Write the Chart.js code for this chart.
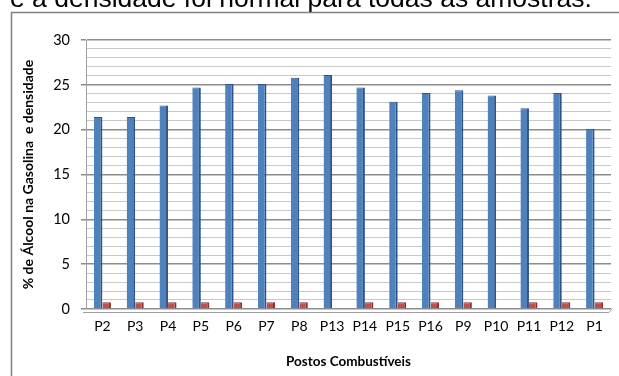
<!DOCTYPE html>
<html>
<head>
<meta charset="utf-8">
<script src="https://cdn.jsdelivr.net/npm/chart.js@4/dist/chart.umd.min.js"></script>
<style>
  html, body { margin: 0; padding: 0; background: #fff; overflow: hidden; }
  #wrap { position: absolute; left: 0; top: 0; width: 619px; height: 376px; }
</style>
</head>
<body>
<div id="wrap"><canvas id="c" width="619" height="376"></canvas></div>
<script>
const categories = ['P2','P3','P4','P5','P6','P7','P8','P13','P14','P15','P16','P9','P10','P11','P12','P1'];
const alcohol = [21.4,21.4,22.7,24.7,25.1,25.1,25.8,26.1,24.7,23.1,24.1,24.4,23.8,22.4,24.1,20.1];
const density = [0.74,0.74,0.74,0.74,0.74,0.74,0.74,0,0.74,0.74,0.74,0.74,0,0.74,0.74,0.74];
const yMin = 0, yMax = 30, yStep = 1, yMajor = 5;
const pageText = 'e a densidade foi normal para todas as amostras.';
const yTitle = '% de Álcool na Gasolina  e densidade';
const xTitle = 'Postos Combustíveis';

const FONT = 'Lato, "Open Sans", sans-serif';

const decor = {
  id: 'decor',
  beforeDraw(chart) {
    const ctx = chart.ctx;
    ctx.save();
    ctx.fillStyle = '#fff';
    ctx.fillRect(0, 0, chart.width, chart.height);
    ctx.fillStyle = '#000';
    ctx.font = '26.5px "Liberation Sans", Arial, sans-serif';
    ctx.textBaseline = 'alphabetic';
    ctx.fillText(pageText, 10, 7);
    ctx.strokeStyle = '#808080';
    ctx.lineWidth = 1.5;
    ctx.beginPath();
    ctx.moveTo(11.5, chart.height + 2);
    ctx.lineTo(11.5, 12.5);
    ctx.lineTo(chart.width + 2, 12.5);
    ctx.stroke();
    ctx.restore();
  },
  afterDatasetsDraw(chart) {
    const ctx = chart.ctx;
    const a = chart.chartArea;
    ctx.save();
    ctx.strokeStyle = '#a0a0a0';
    ctx.lineWidth = 1;
    ctx.beginPath();
    ctx.moveTo(a.left - 3, a.bottom + 3.5);
    ctx.lineTo(a.right - 2, a.bottom + 3.5);
    ctx.lineTo(a.right + 1, a.bottom - 0.5);
    ctx.stroke();
    ctx.restore();
  }
};

new Chart(document.getElementById('c'), {
  type: 'bar',
  data: {
    labels: categories,
    datasets: [
      {
        label: 'Álcool',
        data: alcohol,
        backgroundColor: '#4F81BD',
        borderColor: '#2F5488',
        borderWidth: { right: 2, top: 1, left: 0, bottom: 0 },
        borderSkipped: false,
        categoryPercentage: 0.52,
        barPercentage: 1.0
      },
      {
        label: 'Densidade',
        data: density,
        backgroundColor: '#C0504D',
        borderColor: '#8E2F2C',
        borderWidth: { right: 2, top: 1, left: 0, bottom: 0 },
        borderSkipped: false,
        categoryPercentage: 0.52,
        barPercentage: 1.0
      }
    ]
  },
  options: {
    responsive: false,
    animation: false,
    devicePixelRatio: 1,
    layout: { padding: { top: 40, right: 8, left: 12, bottom: 0 } },
    plugins: { legend: { display: false }, tooltip: { enabled: false } },
    scales: {
      x: {
        grid: { display: false, drawTicks: false },
        border: { display: false },
        ticks: { color: '#000', font: { family: FONT, size: 14 }, padding: 9, maxRotation: 0, autoSkip: false },
        title: { display: true, text: xTitle, color: '#000', font: { family: FONT, size: 13.5, weight: 'bold' }, padding: { top: 0, bottom: 6 } },
        afterFit(s) { s.height = 67; }
      },
      y: {
        min: yMin, max: yMax,
        ticks: {
          stepSize: yStep,
          color: '#000',
          font: { family: FONT, size: 14.5 },
          padding: 11,
          autoSkip: false,
          callback: v => (v % yMajor === 0 ? String(v) : '')
        },
        grid: {
          color: ctx => (ctx.tick && ctx.tick.value % yMajor === 0 ? '#8c8c8c' : '#c8c8c8'),
          lineWidth: ctx => (ctx.tick && ctx.tick.value % yMajor === 0 ? 1.5 : 1.1),
          tickLength: 5,
          tickColor: ctx => (ctx.tick && ctx.tick.value % yMajor === 0 ? '#8c8c8c' : 'rgba(0,0,0,0)')
        },
        border: { display: true, color: '#a0a0a0' },
        title: { display: true, text: yTitle, color: '#000', font: { family: FONT, size: 14, weight: 'bold' }, padding: { top: 8, bottom: 0 } },
        afterFit(s) { s.width = 74; }
      }
    }
  },
  plugins: [decor]
});
</script>
</body>
</html>
